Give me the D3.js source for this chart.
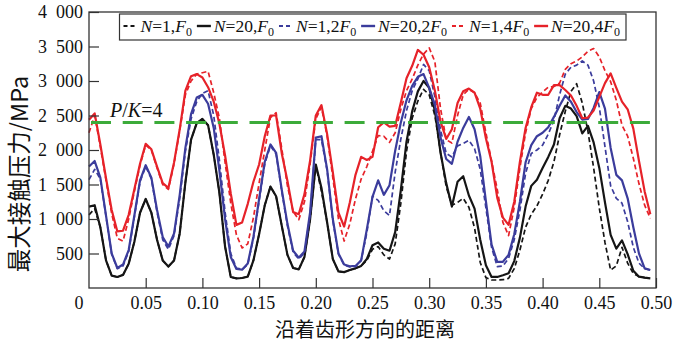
<!DOCTYPE html>
<html>
<head>
<meta charset="utf-8">
<script src="https://cdn.jsdelivr.net/npm/d3@7/dist/d3.min.js"></script>
<style>
  html, body { margin: 0; padding: 0; background: #fff; }
  svg { display: block; }
</style>
</head>
<body>
<svg id="chart" width="680" height="343"></svg>
<script>
// Distance along the tooth profile (x categories)
const distance = [
  0.000, 0.005, 0.010, 0.015, 0.020, 0.025, 0.030, 0.035, 0.040, 0.045,
  0.050, 0.055, 0.060, 0.065, 0.070, 0.075, 0.080, 0.085, 0.090, 0.095,
  0.100, 0.105, 0.110, 0.115, 0.120, 0.125, 0.130, 0.135, 0.140, 0.145,
  0.150, 0.155, 0.160, 0.165, 0.170, 0.175, 0.180, 0.185, 0.190, 0.195,
  0.200, 0.205, 0.210, 0.215, 0.220, 0.225, 0.230, 0.235, 0.240, 0.245,
  0.250, 0.255, 0.260, 0.265, 0.270, 0.275, 0.280, 0.285, 0.290, 0.295,
  0.300, 0.305, 0.310, 0.315, 0.320, 0.325, 0.330, 0.335, 0.340, 0.345,
  0.350, 0.355, 0.360, 0.365, 0.370, 0.375, 0.380, 0.385, 0.390, 0.395,
  0.400, 0.405, 0.410, 0.415, 0.420, 0.425, 0.430, 0.435, 0.440, 0.445,
  0.450, 0.455, 0.460, 0.465, 0.470, 0.475, 0.480, 0.485, 0.490, 0.495
];

// Maximum contact pressure (MPa) for each case
const n1F0 = [
  1060, 1150, 880, 400, 180, 160, 190, 350, 670, 1090,
  1290, 1090, 700, 400, 310, 400, 790, 1530, 2150, 2390,
  2450, 2360, 1930, 1380, 600, 160, 140, 145, 165, 400,
  780, 1200, 1470, 1330, 900, 480, 290, 270, 450, 1000,
  1780, 1400, 950, 420, 240, 230, 260, 285, 320, 400,
  560, 600, 480, 420, 640, 1230, 1980, 2460, 2710, 2880,
  2800, 2500, 1970, 1470, 1200, 1240, 1300, 1170, 870, 370,
  150, 116, 116, 120, 140, 280, 550, 880, 1070, 1190,
  1360, 1560, 1830, 2220, 2560, 2850, 2960, 2680, 2270, 1740,
  1160, 660, 260, 320, 590, 360, 210, 165, 150, 140
];
const n20F0 = [
  1180, 1200, 880, 400, 180, 160, 190, 350, 670, 1090,
  1290, 1090, 700, 400, 310, 400, 790, 1530, 2150, 2390,
  2450, 2360, 1930, 1380, 600, 160, 140, 145, 165, 400,
  780, 1200, 1470, 1330, 900, 480, 290, 270, 450, 1000,
  1790, 1450, 950, 420, 240, 230, 260, 285, 320, 420,
  620, 660, 570, 540, 810, 1420, 2120, 2560, 2850, 3000,
  2900, 2570, 1960, 1520, 1180, 1540, 1620, 1340, 1150, 700,
  330, 160, 160, 185, 213, 390, 730, 1180, 1480, 1570,
  1740, 1900, 2080, 2460, 2640, 2600, 2490, 2240, 2350, 2110,
  1740, 1240, 770, 570, 690, 490, 250, 164, 150, 140
];
const n1F2 = [
  1570, 1720, 1580, 1040, 490, 280, 320, 530, 1030, 1540,
  1760, 1580, 1100, 700, 560, 760, 1300, 1980, 2450, 2700,
  2820, 2860, 2500, 1850, 1100, 500, 290, 270, 340, 720,
  1260, 1800, 2060, 1940, 1400, 900, 520, 420, 510, 1060,
  2150, 2150, 1700, 980, 490, 330, 305, 310, 400, 800,
  1330, 1270, 1120, 1050, 1680, 2160, 2570, 2860, 3030, 3240,
  3150, 2770, 2290, 1950, 1900, 2060, 2095, 2140, 2020, 1720,
  1160, 590, 310, 320, 430, 700, 1130, 1660, 1950, 2000,
  2070, 2230, 2430, 2800, 3100, 3200, 3230, 3290, 3230, 3000,
  2620, 2050, 1480, 1300, 1230, 960, 590, 360, 280, 260
];
const n20F2 = [
  1760, 1840, 1600, 1050, 500, 290, 340, 550, 1050, 1560,
  1780, 1600, 1130, 740, 600, 790, 1350, 2030, 2520, 2760,
  2800, 2670, 2320, 1700, 1000, 450, 275, 265, 355, 740,
  1290, 1830, 2080, 1960, 1420, 930, 540, 440, 530, 1100,
  2180, 2200, 1720, 1000, 500, 340, 315, 320, 400, 850,
  1320, 1560, 1350, 1490, 1990, 2400, 2720, 2930, 3060, 3100,
  2900, 2650, 2180, 1870, 1800, 2120, 2320, 2480, 2300, 1910,
  1260, 630, 380, 380, 480, 780, 1250, 1820, 2070, 2200,
  2250, 2330, 2480, 2640, 2790, 2700, 2550, 2440, 2450, 2610,
  2840, 2600, 2030, 1640, 1560, 1300, 880, 500, 285, 260
];
const n1F4 = [
  2250, 2500, 2050, 1560, 1080, 720, 680, 1000, 1400, 1780,
  2070, 2000, 1740, 1500, 1430, 1800, 2280, 2800, 3000, 3100,
  3120, 3140, 2830, 2460, 1820, 1230, 770, 580, 640, 1020,
  1520, 2000, 2470, 2540, 2020, 1480, 1110, 990, 1250, 1800,
  2450, 2620, 2200, 1600, 1000, 680, 930, 1290, 1580, 1760,
  1980, 2210, 2200, 2110, 2250, 2590, 2860, 3030, 3230, 3390,
  3480, 3280, 2600, 2150, 2100, 2500, 2800, 2880, 2830, 2680,
  2250, 1840, 1430, 950, 760, 1170, 1740, 2250, 2600, 2760,
  2840, 2910, 2920, 2970, 3170, 3250, 3290, 3350, 3430, 3470,
  3350, 3150, 2990, 2720, 2360, 2200, 1880, 1510, 1200, 1010
];
const n20F4 = [
  2440, 2530, 2080, 1590, 1130, 820, 830, 1060, 1430, 1800,
  2090, 2010, 1760, 1520, 1450, 1820, 2300, 2860, 3070, 3100,
  3050, 2910, 2700, 2380, 1920, 1370, 915, 950, 1220, 1540,
  1790, 2200, 2500, 2500, 1950, 1550, 1100, 1070, 1360, 1850,
  2500, 2650, 2230, 1680, 1090, 890, 1240, 1640, 1900, 1855,
  1900, 2330, 2400, 2340, 2350, 2690, 3040, 3220, 3450, 3380,
  3200, 2860, 2410, 2160, 2300, 2680, 2850, 2890, 2830, 2600,
  2170, 1830, 1310, 1020, 915, 1250, 1830, 2320, 2620, 2830,
  2800, 2800, 2940, 2940, 2870, 2790, 2640, 2460, 2470, 2570,
  2770, 2970, 3110, 2900, 2700, 2590, 2310, 1840, 1400, 1070
];

// Reference level P/K = 4
const pkLevel = 2400;

// Axis ticks
const xTicks = [0.05, 0.10, 0.15, 0.20, 0.25, 0.30, 0.35, 0.40, 0.45, 0.50];
const xTickLabels = ["0.05", "0.10", "0.15", "0.20", "0.25", "0.30", "0.35", "0.40", "0.45", "0.50"];
const yTicks = [500, 1000, 1500, 2000, 2500, 3000, 3500, 4000];
const yTickLabels = ["500", "1\u2002000", "1\u2002500", "2\u2002000", "2\u2002500", "3\u2002000", "3\u2002500", "4\u2002000"];

// Series: N value, load multiple label, values, colour, dashed
const seriesList = [
  { n: "1",  load: "",  values: n1F0,  color: "#151515", dashed: true },
  { n: "20", load: "",  values: n20F0, color: "#151515", dashed: false },
  { n: "1",  load: "2", values: n1F2,  color: "#3b3c9c", dashed: true },
  { n: "20", load: "2", values: n20F2, color: "#3b3c9c", dashed: false },
  { n: "1",  load: "4", values: n1F4,  color: "#e62229", dashed: true },
  { n: "20", load: "4", values: n20F4, color: "#e62229", dashed: false }
];

const svg = d3.select("#chart");
const serif = "'Liberation Serif', 'Times New Roman', serif";
const cjk = "'Noto Sans CJK SC', sans-serif";

const plot = { left: 89, right: 656, top: 12, bottom: 288 };

const x = d3.scaleLinear().domain([0, 0.5]).range([plot.left, plot.right]);
const y = d3.scaleLinear().domain([0, 4000]).range([plot.bottom, plot.top]);

// Curves
const line = d3.line()
  .x((d, i) => x(distance[i]))
  .y(d => y(d));

const curves = svg.append("g").attr("class", "curves");
seriesList.forEach(s => {
  curves.append("path")
    .datum(s.values)
    .attr("d", line)
    .attr("fill", "none")
    .attr("stroke", s.color)
    .attr("stroke-width", s.dashed ? 1.7 : 2.2)
    .attr("stroke-linejoin", "round")
    .attr("stroke-dasharray", s.dashed ? "5,3" : null);
});

// P/K = 4 reference line
svg.append("line")
  .attr("x1", x(0)).attr("x2", x(0.5))
  .attr("y1", y(pkLevel)).attr("y2", y(pkLevel))
  .attr("stroke", "#3cab3a")
  .attr("stroke-width", 3)
  .attr("stroke-dasharray", "20,11.7")
  .attr("stroke-dashoffset", -2);

const pk = svg.append("text")
  .attr("x", 110).attr("y", 117)
  .attr("font-family", serif).attr("font-size", 20).attr("fill", "#111");
pk.append("tspan").attr("font-style", "italic").text("P");
pk.append("tspan").text("/");
pk.append("tspan").attr("font-style", "italic").text("K");
pk.append("tspan").text("=4");

// Axes with inward ticks
const xAxis = d3.axisBottom(x)
  .tickValues(xTicks)
  .tickFormat((d, i) => xTickLabels[i])
  .tickSizeInner(-10).tickSizeOuter(0).tickPadding(8);
const gx = svg.append("g").attr("transform", `translate(0,${plot.bottom})`).call(xAxis);

const yAxis = d3.axisLeft(y)
  .tickValues(yTicks)
  .tickFormat((d, i) => yTickLabels[i])
  .tickSizeInner(-10).tickSizeOuter(0).tickPadding(6);
const gy = svg.append("g").attr("transform", `translate(${plot.left},0)`).call(yAxis);

[gx, gy].forEach(g => {
  g.select(".domain").remove();
  g.selectAll(".tick line").attr("stroke", "#333").attr("stroke-width", 1.2);
  g.selectAll(".tick text")
    .attr("font-family", serif).attr("font-size", 18).attr("fill", "#111");
});

// Origin label
svg.append("text")
  .attr("x", 79).attr("y", 308.5)
  .attr("text-anchor", "middle")
  .attr("font-family", serif).attr("font-size", 18).attr("fill", "#111")
  .text("0");

// Plot frame
svg.append("rect")
  .attr("x", plot.left).attr("y", plot.top)
  .attr("width", plot.right - plot.left).attr("height", plot.bottom - plot.top)
  .attr("fill", "none").attr("stroke", "#333").attr("stroke-width", 1.3);

// Legend
const legendBox = { x: 119.5, y: 14, w: 506.5, h: 26 };
const lg = svg.append("g").attr("class", "legend");
lg.append("rect")
  .attr("x", legendBox.x).attr("y", legendBox.y)
  .attr("width", legendBox.w).attr("height", legendBox.h)
  .attr("fill", "#fff").attr("stroke", "#333").attr("stroke-width", 1.2);

const symLen = 14, symGap = 3;
const baseY = 32;
const items = seriesList.map(s => {
  const g = lg.append("g");
  const sym = g.append("line")
    .attr("y1", baseY - 6).attr("y2", baseY - 6)
    .attr("stroke", s.color)
    .attr("stroke-width", s.dashed ? 2 : 2.4)
    .attr("stroke-dasharray", s.dashed ? "4,3" : null);
  const t = g.append("text")
    .attr("y", baseY)
    .attr("font-family", serif).attr("font-size", 17.5).attr("fill", "#111");
  t.append("tspan").attr("font-style", "italic").text("N");
  t.append("tspan").text("=" + s.n + "," + s.load);
  t.append("tspan").attr("font-style", "italic").text("F");
  t.append("tspan").attr("font-size", 12).attr("dy", 4).text("0");
  return { sym, t, w: t.node().getComputedTextLength() };
});
const startX = 123.5, endX = 620;
const used = d3.sum(items, d => symLen + symGap + d.w);
const gap = (endX - startX - used) / (items.length - 1);
let cx = startX;
items.forEach(it => {
  it.sym.attr("x1", cx).attr("x2", cx + symLen);
  it.t.attr("x", cx + symLen + symGap);
  cx += symLen + symGap + it.w + gap;
});

// Axis titles
svg.append("text")
  .attr("x", 365).attr("y", 336.8)
  .attr("text-anchor", "middle")
  .attr("font-family", cjk).attr("font-size", 20).attr("fill", "#111")
  .text("沿着齿形方向的距离");

svg.append("text")
  .attr("transform", "translate(28,174) rotate(-90)")
  .attr("text-anchor", "middle")
  .attr("font-family", cjk).attr("font-size", 23.5).attr("fill", "#111")
  .text("最大接触压力/MPa");
</script>
</body>
</html>
